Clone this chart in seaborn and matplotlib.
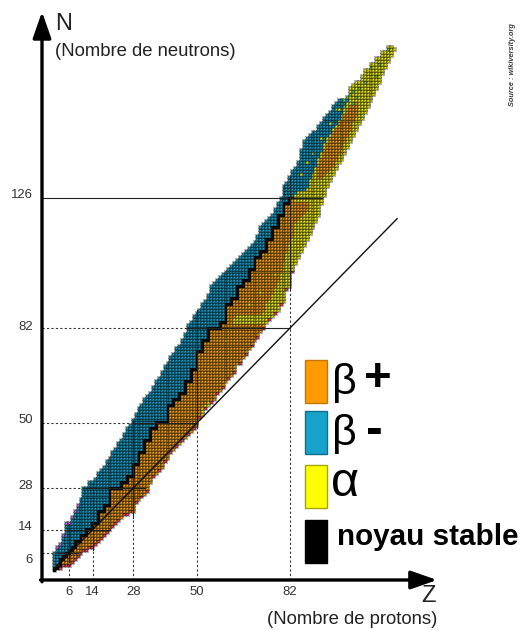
import numpy as np
import pandas as pd
import matplotlib
matplotlib.use("Agg")
import matplotlib.pyplot as plt
import seaborn as sns
from matplotlib.colors import ListedColormap
from matplotlib.patches import Rectangle
from matplotlib.transforms import ScaledTranslation
from matplotlib import font_manager

W, H = 529, 630

# known nuclides, Z = 1 .. 118 : lowest and highest neutron number
n_min = [0, 1, 1, 2, 2, 2, 3, 4, 5, 6,
         7, 7, 8, 8, 9, 10, 11, 12, 13, 14,
         15, 16, 17, 18, 19, 19, 20, 20, 23, 24,
         25, 26, 27, 30, 32, 33, 34, 35, 37, 38,
         40, 41, 42, 43, 44, 45, 46, 47, 48, 49,
         52, 53, 55, 56, 57, 58, 60, 61, 62, 64,
         65, 66, 67, 70, 70, 72, 73, 75, 76, 78,
         79, 81, 82, 84, 85, 86, 87, 88, 90, 91,
         95, 96, 101, 104, 106, 108, 110, 112, 114, 116,
         118, 120, 124, 127, 130, 132, 134, 136, 138, 139,
         141, 143, 145, 147, 149, 151, 153, 155, 157, 159,
         161, 163, 165, 168, 170, 172, 174, 176]
n_max = [6, 8, 9, 12, 16, 16, 18, 20, 22, 24,
         28, 28, 30, 30, 31, 33, 34, 35, 37, 38,
         40, 41, 43, 44, 46, 48, 49, 51, 53, 55,
         56, 58, 59, 60, 62, 64, 65, 67, 69, 70,
         72, 73, 75, 76, 78, 80, 83, 84, 86, 87,
         88, 90, 91, 93, 96, 97, 98, 99, 100, 101,
         102, 103, 104, 105, 106, 107, 108, 109, 110, 111,
         113, 116, 117, 118, 119, 120, 122, 124, 126, 130,
         131, 133, 135, 136, 138, 142, 145, 146, 147, 148,
         148, 150, 151, 153, 154, 155, 157, 158, 159, 159,
         159, 160, 163, 164, 165, 165, 167, 169, 169, 171,
         171, 173, 173, 175, 175, 177, 177, 176]

# top of the stable staircase (noyau stable), Z = 1 .. 83
stable_top = [1, 2, 4, 5, 6, 7, 8, 10, 10, 12,
              12, 14, 14, 16, 16, 20, 20, 22, 22, 28,
              28, 28, 28, 30, 30, 32, 32, 36, 36, 40,
              40, 44, 44, 48, 48, 50, 50, 50, 50, 56,
              56, 58, 58, 60, 60, 64, 64, 68, 68, 74,
              74, 78, 78, 82, 82, 82, 82, 84, 84, 90,
              90, 92, 92, 96, 96, 98, 98, 102, 102, 106,
              106, 108, 108, 112, 112, 116, 116, 120, 120, 124,
              124, 126, 126]

# alpha emitters on the proton-rich side, Z <= 83
alpha_z = [52, 53, 54, 55, 63, 64, 65, 66, 67, 68, 69, 70, 71, 72, 73,
           74, 75, 76, 77, 78, 79, 80, 81, 82, 83]
alpha_lo = [53, 55, 56, 57, 84, 84, 84, 84, 84, 84, 84, 84, 84, 84, 84,
            84, 85, 86, 87, 88, 90, 91, 95, 96, 101]
alpha_hi = [55, 56, 57, 57, 85, 86, 86, 86, 86, 86, 86, 86, 86, 86, 87,
            90, 91, 93, 95, 97, 100, 104, 107, 110, 112]

# heavy nuclei, Z = 84 .. 118 : first beta- N, beta+ window (rest alpha)
heavy_bm = [128, 129, 129, 129, 130, 133, 135, 137, 140, 142,
            145, 147, 148, 150, 151, 153, 155, 157, 159] + [None] * 16
heavy_or_lo = [118, 119, 120, 121, 122, 0, 0, 0, 133, 133,
               134, 135, 136, 137, 139, 141, 143, 145, 147, 149,
               152, 154] + [0] * 13
heavy_or_hi = [124, 124, 124, 124, 124, -1, -1, -1, 137, 139,
               142, 144, 146, 148, 149, 151, 152, 154, 156, 157,
               158, 158] + [-1] * 13

# drip-line emitters and isolated cells
red_z = [3, 4, 5, 6, 7, 8, 9, 10, 11, 12, 13, 14, 15, 16, 17, 18, 19, 20,
         21, 22, 23, 25, 26, 27, 29, 31, 33, 35, 37, 39, 41, 43, 45, 47, 49,
         51, 53, 55, 57, 59, 61, 63, 65, 67, 69, 71, 73, 75, 77, 79, 81, 83]
purple_z = [2, 3, 4, 5, 6, 7, 8, 9]
green_z = [98, 100, 101, 101, 102, 103, 104, 104, 105, 106, 108, 110, 112, 113, 116]
green_n = [156, 158, 157, 159, 160, 161, 158, 162, 160, 163, 165, 170, 167, 171, 176]
dot_z = [86, 88, 90, 93, 96, 99, 60, 68, 72, 77]
dot_n = [134, 138, 141, 146, 151, 156, 78, 90, 94, 100]

magic_z = [6, 14, 28, 50, 82]
magic_z_lo = [3, 7, 18, 49, 95]
magic_z_hi = [16, 30, 51, 88, 133]
magic_n = [6, 14, 28, 50, 82, 126]
magic_n_lo = [2, 5, 11, 28, 46, -4]
magic_n_hi = [9, 20, 32, 50, 82, 93]

# ---- build the grid of cells ----
BLACK, ORANGE, BLUE, YELLOW, RED, PURPLE, GREEN = range(7)
grid = np.full((180, 120), np.nan)
for i, z in enumerate(range(1, 119)):
    for n in range(n_min[i], n_max[i] + 1):
        if z <= 83:
            top = stable_top[i]
            low = stable_top[i - 1] if i > 0 else 0
            if low <= n <= top:
                c = BLACK
            elif n > top:
                c = BLUE
            elif z in alpha_z and alpha_lo[alpha_z.index(z)] <= n <= alpha_hi[alpha_z.index(z)]:
                c = YELLOW
            else:
                c = ORANGE
        else:
            k = z - 84
            bm = heavy_bm[k]
            if bm is not None and n >= bm:
                c = BLUE
            elif heavy_or_lo[k] <= n <= heavy_or_hi[k]:
                c = ORANGE
            else:
                c = YELLOW
        grid[n, z] = c
for z in red_z:
    grid[n_min[z - 1], z] = RED
for z in purple_z:
    grid[n_max[z - 1], z] = PURPLE
for z, n in zip(dot_z, dot_n):
    grid[n, z] = YELLOW
for z, n in zip(green_z, green_n):
    grid[n, z] = GREEN

df = pd.DataFrame(grid, index=np.arange(180), columns=np.arange(120))

names = {f.name for f in font_manager.fontManager.ttflist}
narrow = "Liberation Sans Narrow" in names
FONT = ["Liberation Sans Narrow", "DejaVu Sans"] if narrow else ["Liberation Sans", "DejaVu Sans"]
fit = 1.0 if narrow else 0.82

cell_colors = ["#111111", "#f09f1c", "#1b9cc4", "#e8e81e", "#e4465c", "#b66fe3", "#74c84a"]

fig = plt.figure(figsize=(W / 100, H / 100), dpi=100)
ax = fig.add_axes([42 / W, 1 - 580 / H, 398 / W, 570 / H])
sns.heatmap(df, ax=ax, cmap=ListedColormap(cell_colors), vmin=-0.5, vmax=6.5,
            cbar=False, linewidths=0.15, linecolor=(0, 0, 0, 0.3),
            xticklabels=False, yticklabels=False)
# only draw the thin cell borders where there is a nuclide
mesh = ax.collections[0]
edges = np.zeros((grid.size, 4))
edges[~np.isnan(grid.ravel())] = (0, 0, 0, 0.3)
mesh.set_edgecolor(edges)

x0, y0 = -2.95, -2.54
ax.set_xlim(x0, 134.3)
ax.set_ylim(y0, 190.0)

ticks = [6, 14, 28, 50, 82]
ax.set_xticks([t + 0.5 for t in ticks])
ax.set_xticklabels([str(t) for t in ticks], fontsize=11.5 * fit, family=FONT, color="#333333")
ax.set_yticks([t + 0.5 for t in magic_n])
ax.set_yticklabels([str(t) for t in magic_n], fontsize=11.5 * fit, family=FONT,
                   color="#333333", rotation=0)
ax.tick_params(axis="x", length=0, pad=4)
ax.tick_params(axis="y", length=0, pad=6.5)
# the N labels sit a little off their lines in the original
label_shift = [-5, 4, 4, 4, 3, 4]
for lbl, dy in zip(ax.get_yticklabels(), label_shift):
    lbl.set_transform(lbl.get_transform() + ScaledTranslation(0, dy / 100, fig.dpi_scale_trans))

# guide lines of magic numbers
dot = dict(color="#333333", lw=0.8, ls=(0, (2, 2)), clip_on=False, zorder=3)
sol = dict(color="#222222", lw=0.8, clip_on=False, zorder=3)
for z, lo, hi in zip(magic_z, magic_z_lo, magic_z_hi):
    ax.plot([z + 0.5, z + 0.5], [y0, lo + 0.5], **dot)
    ax.plot([z + 0.5, z + 0.5], [lo + 0.5, hi + 0.5], **sol)
for n, lo, hi in zip(magic_n, magic_n_lo, magic_n_hi):
    if lo > 0:
        ax.plot([x0, lo + 0.5], [n + 0.5, n + 0.5], **dot)
    ax.plot([max(x0, lo + 0.5), hi + 0.5], [n + 0.5, n + 0.5], **sol)

# N = Z line
ax.plot([1.5, 119.5], [1.5, 119.5], color="#111111", lw=1.0, zorder=3)

# axes with arrows
arrow = dict(arrowstyle="-|>,head_length=0.8,head_width=0.28", lw=2.4, color="black",
             shrinkA=0, shrinkB=0, mutation_scale=20)
ax.annotate("", xy=(x0, 189.4), xytext=(x0, y0 - 0.6), arrowprops=arrow, annotation_clip=False)
ax.annotate("", xy=(133.3, y0), xytext=(x0 - 0.5, y0), arrowprops=arrow, annotation_clip=False)


def ftext(x, y, s, **kw):
    kw.setdefault("family", FONT)
    return fig.text(x / W, 1 - y / H, s, **kw)


ftext(55, 24, "N", fontsize=17, va="center", color="#222222")
ftext(55, 51, "(Nombre de neutrons)", fontsize=16.3 * fit, va="center", color="#222222")
ftext(429, 596, "Z", fontsize=17, ha="center", va="center", color="#222222")
ftext(437, 620, "(Nombre de protons)", fontsize=16.3 * fit, ha="right", va="center", color="#222222")
ftext(513, 65, "Source : wikiversity.org", rotation=90, fontsize=6.5 * fit, ha="center",
      va="center", color="#3a3a3a", style="italic", weight="bold")

# legend
legend_fc = ["#ff9a00", "#17a2c9", "#ffff00", "#000000"]
legend_ec = ["#c47600", "#0f708c", "#a6a600", "#000000"]
legend_top = [360, 411, 465, 520]
for fc, ec, top in zip(legend_fc, legend_ec, legend_top):
    fig.add_artist(Rectangle((305 / W, 1 - (top + 43) / H), 22 / W, 43 / H,
                             transform=fig.transFigure, facecolor=fc, edgecolor=ec, lw=1))
ftext(332, 383, "β", fontsize=31, va="center")
ftext(378, 379, "+", fontsize=34, ha="center", va="center", weight="bold")
ftext(332, 434, "β", fontsize=31, va="center")
ftext(374, 431, "-", fontsize=36, ha="center", va="center", weight="bold")
ftext(331, 484, "α", fontsize=35, va="center")
ftext(337, 545, "noyau stable", fontsize=26 * fit, va="baseline", weight="bold")

fig.savefig("out.png", dpi=100)
